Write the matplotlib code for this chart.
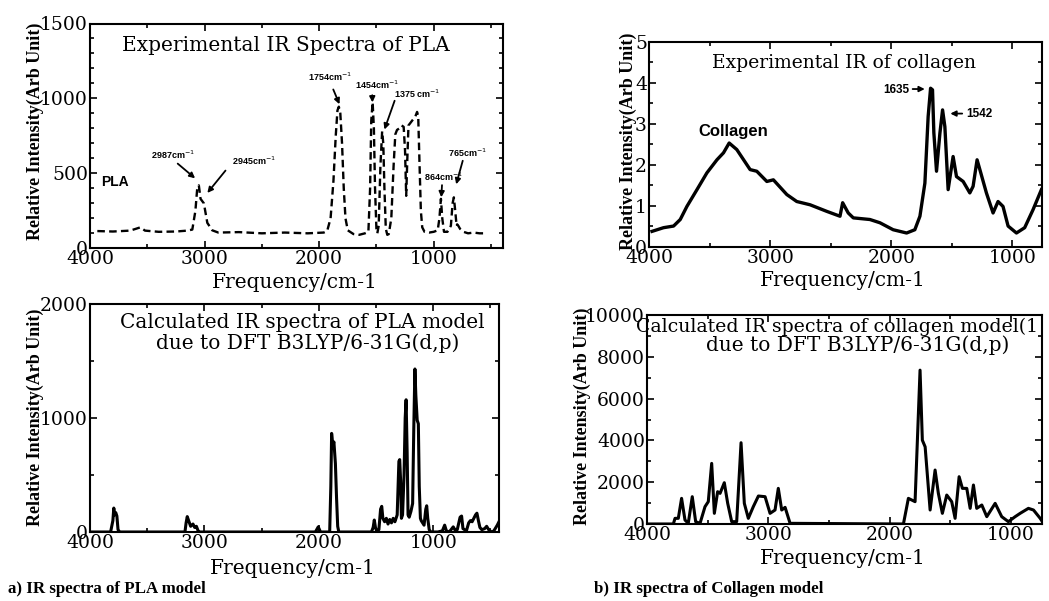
import matplotlib
matplotlib.use("Agg")
import matplotlib.pyplot as plt
from matplotlib.ticker import MultipleLocator

W, H = 1049, 601

# ---------------- data ----------------
# (a, top) Experimental IR spectrum of PLA
pla_exp_freq = [3936, 3800, 3650, 3600, 3560, 3520, 3400, 3250, 3150, 3107, 3080, 3064, 3050,
                3035, 3006, 2976, 2933, 2880, 2700, 2500, 2300, 2100, 1960, 1930,
                1900, 1875, 1855, 1840, 1828, 1815, 1800, 1785, 1770, 1750, 1700, 1650, 1600,
                1570, 1555, 1545, 1533, 1522, 1512, 1500, 1492, 1480, 1465, 1450, 1440, 1430,
                1418, 1405, 1392, 1370, 1350, 1335, 1320, 1300, 1280, 1262, 1250, 1240, 1230,
                1220, 1200, 1180, 1160, 1145, 1135, 1125, 1112, 1100, 1080, 1040, 1000, 965,
                950, 937, 925, 910, 880, 850, 835, 824, 812, 800, 795, 785, 770, 740, 700,
                650, 600, 533]
pla_exp_int = [115, 112, 118, 130, 140, 118, 110, 112, 118, 125, 250, 400, 420,
               330, 300, 170, 120, 105, 108, 100, 105, 100, 105, 115,
               200, 450, 750, 920, 945, 900, 700, 400, 200, 120, 95, 90, 100,
               110, 400, 850, 975, 800, 400, 130, 100, 150, 550, 780, 700, 400,
               130, 90, 95, 200, 550, 760, 790, 800, 820, 810, 650, 350, 600,
               820, 840, 860, 880, 910, 880, 600, 250, 140, 110, 105, 110, 120,
               200, 330, 200, 110, 110, 150, 300, 340, 250, 150, 160, 150, 130, 110, 100,
               105, 100, 100]

# (a, bottom) Calculated IR spectrum of PLA model
pla_calc_freq = [4000, 3820, 3800, 3792, 3785, 3775, 3765, 3755, 3740, 3170, 3160, 3150, 3138,
                 3120, 3100, 3085, 3070, 3055, 3040, 2030, 2005, 1985, 1905, 1895, 1888,
                 1878, 1868, 1855, 1845, 1835, 1825, 1540, 1525, 1515, 1505, 1495, 1475,
                 1460, 1450, 1440, 1425, 1410, 1395, 1380, 1365, 1350, 1335, 1315, 1300,
                 1293, 1285, 1278, 1268, 1255, 1245, 1237, 1228, 1220, 1210, 1195, 1180,
                 1170, 1160, 1152, 1140, 1130, 1122, 1112, 1105, 1080, 1065, 1057, 1048,
                 1035, 1020, 960, 920, 900, 885, 860, 825, 805, 790, 765, 752, 740, 710,
                 690, 675, 660, 645, 630, 618, 605, 592, 575, 550, 533, 515, 490, 470,
                 440, 425]
pla_calc_int = [0, 0, 100, 210, 150, 170, 140, 20, 0, 0, 80, 135, 100,
                50, 70, 40, 50, 10, 0, 0, 45, 0, 0, 400, 865,
                760, 790, 600, 300, 50, 0, 0, 40, 105, 40, 10, 20,
                200, 225, 120, 90, 120, 70, 110, 80, 120, 90, 150, 620,
                635, 450, 120, 150, 500, 1000, 1160, 700, 150, 130, 180, 250,
                900, 1430, 1200, 980, 950, 400, 120, 100, 60, 200, 230, 120,
                20, 0, 0, 10, 60, 10, 0, 45, 10, 20, 130, 140, 30, 10,
                80, 100, 90, 120, 150, 165, 100, 40, 20, 30, 50, 20, 0, 10,
                60, 90]

# (b, top) Experimental IR spectrum of collagen
col_exp_freq = [3975, 3880, 3797, 3742, 3687, 3604, 3522, 3439, 3385, 3338, 3275, 3165,
                3110, 3027, 2973, 2862, 2780, 2670, 2533, 2423, 2401, 2355, 2313, 2176,
                2093, 1984, 1873, 1805, 1763, 1722, 1695, 1675, 1659, 1648, 1626, 1598,
                1576, 1557, 1530, 1489, 1461, 1406, 1351, 1324, 1291, 1268, 1214, 1159,
                1118, 1077, 1035, 966, 898, 829, 760]
col_exp_int = [0.37, 0.46, 0.50, 0.66, 0.98, 1.39, 1.80, 2.12, 2.29, 2.53, 2.37, 1.88,
               1.84, 1.59, 1.63, 1.27, 1.10, 1.02, 0.86, 0.74, 1.07, 0.82, 0.70, 0.66,
               0.58, 0.41, 0.33, 0.41, 0.74, 1.55, 3.18, 3.87, 3.83, 2.78, 1.84, 2.77,
               3.34, 2.93, 1.39, 2.20, 1.71, 1.59, 1.31, 1.47, 2.12, 1.88, 1.31, 0.82,
               1.10, 0.98, 0.50, 0.33, 0.46, 0.90, 1.39]

# (b, bottom) Calculated IR spectrum of collagen model
col_calc_freq = [4000, 3783, 3769, 3742, 3715, 3687, 3660, 3627, 3599, 3563, 3522, 3495,
                 3467, 3445, 3418, 3398, 3363, 3335, 3302, 3261, 3225, 3198, 3165, 3124,
                 3082, 3027, 2986, 2945, 2918, 2890, 2862, 2821, 1887, 1846, 1791, 1750,
                 1731, 1708, 1667, 1626, 1599, 1566, 1530, 1489, 1461, 1428, 1401, 1365,
                 1337, 1310, 1283, 1241, 1200, 1131, 1077, 1022, 966, 925, 857, 815, 760,
                 733]
col_calc_int = [0, 0, 271, 271, 1227, 191, 32, 1307, 112, 32, 829, 1068,
                2900, 510, 1546, 1466, 1976, 988, 112, 112, 3889, 988, 271, 829,
                1339, 1307, 510, 669, 1705, 669, 797, 32, 0, 1227, 1068, 7362,
                4011, 3692, 669, 2582, 1466, 510, 1386, 1068, 271, 2263, 1705, 1705,
                749, 1865, 749, 908, 351, 988, 351, 112, 351, 510, 749, 669, 271,
                32]

x_ticks = [4000, 3000, 2000, 1000]
xlabel = "Frequency/cm-1"
ylabel = "Relative Intensity(Arb Unit)"

# ---------------- figure ----------------
fig = plt.figure(figsize=(W / 100, H / 100), dpi=100)
fig.patch.set_facecolor("white")

SERIF = ["DejaVu Serif"]
TICK_FS = 13.5


def px_axes(l, t, r, b):
    return [l / W, 1 - b / H, (r - l) / W, (b - t) / H]


def ftext(x, y, s, **kw):
    fig.text(x / W, 1 - y / H, s, **kw)


def style(ax, xlim, ylim, ymaj, ymin):
    ax.set_xlim(*xlim)
    ax.set_ylim(*ylim)
    ax.set_xticks(x_ticks)
    ax.xaxis.set_minor_locator(MultipleLocator(500))
    ax.yaxis.set_major_locator(MultipleLocator(ymaj))
    ax.yaxis.set_minor_locator(MultipleLocator(ymin))
    ax.tick_params(which="both", direction="in", top=True, right=True, width=1.2,
                   labelsize=TICK_FS, pad=1.5)
    ax.tick_params(which="major", length=5)
    ax.tick_params(which="minor", length=3)
    for lab in ax.get_xticklabels() + ax.get_yticklabels():
        lab.set_family(SERIF)
    for sp in ax.spines.values():
        sp.set_linewidth(1.5)


# ---- (a) top: experimental PLA ----
ax1 = fig.add_axes(px_axes(90, 23.5, 503, 248.3))
ax1.plot(pla_exp_freq, pla_exp_int, color="black", lw=1.7, ls=(0, (3.2, 1.8)))
style(ax1, (4000, 395), (0, 1500), 500, 100)
ax1.text(2293, 1355, "Experimental IR Spectra of PLA", ha="center", va="center",
         family=SERIF, fontsize=14.5)
ax1.text(3907, 442, "PLA", ha="left", va="center", family=["Liberation Sans"],
         fontweight="bold", fontsize=10)

ann_kw = dict(family=["Liberation Sans"], fontweight="bold", fontsize=6.5,
              ha="center", va="center")
arrow_kw = dict(arrowstyle="-|>", color="black", lw=1.3, mutation_scale=8)


def annot(ax, txt, tx, ty, ax0, ay0, ax1_, ay1):
    ax.text(tx, ty, txt, **ann_kw)
    ax.annotate("", xy=(ax1_, ay1), xytext=(ax0, ay0), arrowprops=arrow_kw)


annot(ax1, "2987cm$^{-1}$", 3279, 622, 3253, 577, 3064, 455)
annot(ax1, "2945cm$^{-1}$", 2568, 582, 2802, 533, 2991, 355)
annot(ax1, "1754cm$^{-1}$", 1902, 1145, 1886, 1077, 1813, 944)
annot(ax1, "1454cm$^{-1}$", 1495, 1089, 1537, 1040, 1534, 955)
annot(ax1, "1375 cm$^{-1}$", 1140, 1032, 1333, 1002, 1438, 775)
annot(ax1, "864cm$^{-1}$", 919, 479, 926, 440, 935, 322)
annot(ax1, "765cm$^{-1}$", 705, 639, 740, 602, 810, 409)

# ---- (a) bottom: calculated PLA ----
ax2 = fig.add_axes(px_axes(90, 304, 499, 532))
ax2.plot(pla_calc_freq, pla_calc_int, color="black", lw=2.2)
style(ax2, (4000, 425), (0, 2000), 1000, 500)
ax2.text(2145, 1838, "Calculated IR spectra of PLA model", ha="center", va="center",
         family=SERIF, fontsize=14.5)
ax2.text(2101, 1653, "due to DFT B3LYP/6-31G(d,p)", ha="center", va="center",
         family=SERIF, fontsize=14.5)

# ---- (b) top: experimental collagen ----
ax3 = fig.add_axes(px_axes(649, 42, 1042, 246.5))
ax3.plot(col_exp_freq, col_exp_int, color="black", lw=2.4)
style(ax3, (4000, 755), (0, 5), 1, 0.5)
ax3.text(2390, 4.49, "Experimental IR of collagen", ha="center", va="center",
         family=SERIF, fontsize=13.5)
ax3.text(3305, 2.82, "Collagen", ha="center", va="center", family=["Liberation Sans"],
         fontweight="bold", fontsize=12)
ax3.text(1961, 3.83, "1635", ha="center", va="center", family=["Liberation Sans"],
         fontweight="bold", fontsize=8.5)
ax3.annotate("", xy=(1700, 3.85), xytext=(1846, 3.85), arrowprops=arrow_kw)
ax3.text(1383, 3.23, "1542", ha="left", va="center", family=["Liberation Sans"],
         fontweight="bold", fontsize=8.5)
ax3.annotate("", xy=(1535, 3.25), xytext=(1391, 3.25), arrowprops=arrow_kw)

# ---- (b) bottom: calculated collagen ----
ax4 = fig.add_axes(px_axes(647, 315, 1042, 524))
ax4.plot(col_calc_freq, col_calc_int, color="black", lw=2.2)
style(ax4, (4000, 745), (0, 10000), 2000, 1000)
ax4.text(4088, 9418, "Calculated IR spectra of collagen model(1", ha="left", va="center",
         family=SERIF, fontsize=13.6)
ax4.text(3511, 8558, "due to DFT B3LYP/6-31G(d,p)", ha="left", va="center",
         family=SERIF, fontsize=14.5)

# ---- axis labels ----
ylab_kw = dict(rotation=90, ha="center", va="center", family=["Liberation Serif"],
               fontweight="bold", fontsize=13)
ftext(35, 131, ylabel, **ylab_kw)
ftext(35, 417, ylabel, **ylab_kw)
ftext(628, 141, ylabel, **ylab_kw)
ftext(582, 416, ylabel, **ylab_kw)

xlab_kw = dict(ha="center", va="center", family=SERIF, fontsize=14.5)
ftext(295, 282, xlabel, **xlab_kw)
ftext(843, 280, xlabel, **xlab_kw)
ftext(293, 568, xlabel, **xlab_kw)
ftext(843, 559, xlabel, **xlab_kw)

# ---- captions ----
cap_kw = dict(ha="left", va="center", family=["Liberation Serif"], fontweight="bold",
              fontsize=12.2)
ftext(8, 589, "a) IR spectra of PLA model", **cap_kw)
ftext(594, 589, "b) IR spectra of Collagen model", **cap_kw)

fig.savefig("out.png", dpi=100)
